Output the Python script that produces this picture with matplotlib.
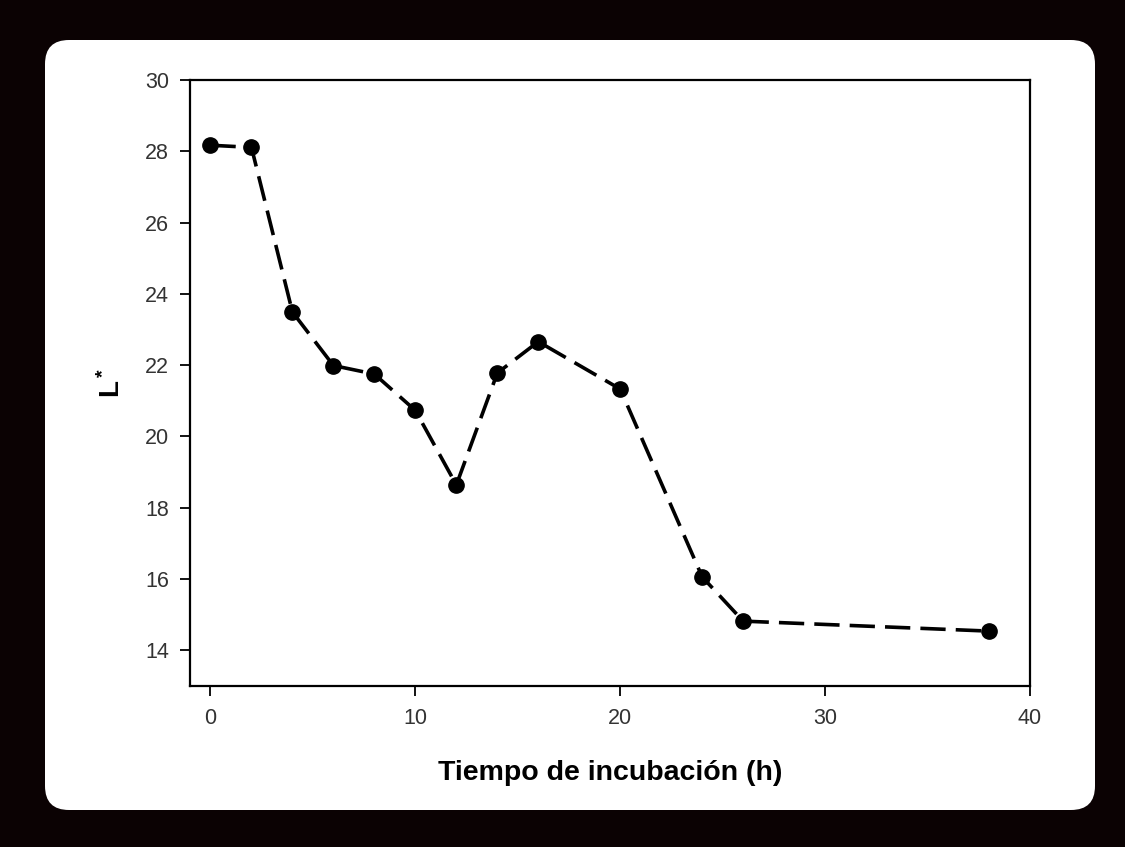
import matplotlib
matplotlib.use("Agg")
import matplotlib.pyplot as plt
from matplotlib.patches import FancyBboxPatch

# Data
hours = [0, 2, 4, 6, 8, 10, 12, 14, 16, 20, 24, 26, 38]
L_values = [28.17, 28.11, 23.49, 21.99, 21.75, 20.73, 18.64, 21.78, 22.66, 21.33, 16.06, 14.82, 14.54]
x_ticks = [0, 10, 20, 30, 40]
y_ticks = [14, 16, 18, 20, 22, 24, 26, 28, 30]
x_label = "Tiempo de incubación (h)"

plt.rcParams['font.family'] = ['Liberation Sans', 'DejaVu Sans']
plt.rcParams['mathtext.fontset'] = 'custom'
plt.rcParams['mathtext.rm'] = 'Liberation Sans'
plt.rcParams['mathtext.bf'] = 'Liberation Sans:bold'

W, H, DPI = 1125, 847, 100
fig = plt.figure(figsize=(W / DPI, H / DPI), dpi=DPI)
fig.patch.set_facecolor('#0b0203')

panel = FancyBboxPatch((45 / DPI, (H - 810) / DPI), (1095 - 45) / DPI, (810 - 40) / DPI,
                       boxstyle="round,pad=0,rounding_size=0.24",
                       transform=fig.dpi_scale_trans, facecolor='white', edgecolor='none',
                       zorder=-10)
fig.add_artist(panel)

ax = fig.add_axes([190 / W, 1 - 686 / H, (1030 - 190) / W, (686 - 80) / H])
ax.set_zorder(5)
ax.set_facecolor('white')

ax.plot(hours, L_values, color='black', linewidth=2.6, dashes=(7, 2.8),
        marker='o', markersize=11, markerfacecolor='black', markeredgecolor='black')

ax.set_xlim(-1, 40)
ax.set_ylim(13, 30)
ax.set_xticks(x_ticks)
ax.set_yticks(y_ticks)

for s in ax.spines.values():
    s.set_linewidth(1.6)
    s.set_color('black')

ax.tick_params(axis='both', direction='out', length=7, width=1.3, colors='black',
               labelcolor='#333333', labelsize=15.5)
ax.tick_params(axis='x', pad=9)
ax.tick_params(axis='y', pad=8)

ax.set_xlabel(x_label, fontsize=20.5, fontweight='bold', labelpad=22)
ax.set_ylabel(r'$\mathbf{L^*}$', fontsize=20, labelpad=14)

fig.savefig('out.png', dpi=DPI, facecolor=fig.get_facecolor())
